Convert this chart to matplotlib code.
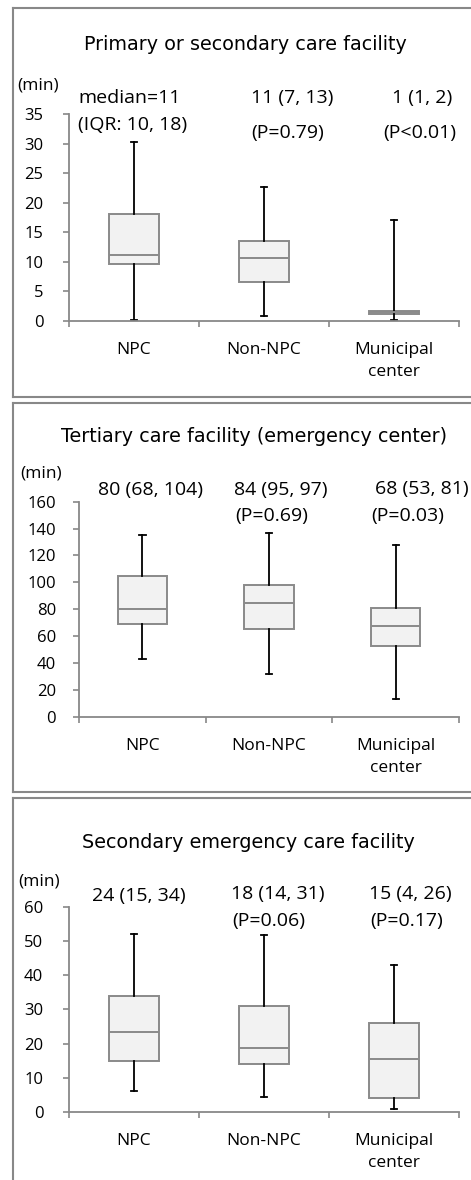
import matplotlib
matplotlib.use("Agg")
import matplotlib.pyplot as plt
from matplotlib.lines import Line2D

W, H = 471, 1180

# categories
groups = ["NPC", "Non-NPC", "Municipal\ncenter"]

# panel 1: primary or secondary care facility
p1_title = "Primary or secondary care facility"
p1_lo = [0.2, 0.8, 0.1]
p1_q1 = [9.7, 6.6, 1.1]
p1_med = [11.2, 10.7, 1.5]
p1_q3 = [18.1, 13.6, 1.7]
p1_hi = [30.3, 22.7, 17.1]
p1_ticks = [0, 5, 10, 15, 20, 25, 30, 35]

# panel 2: tertiary care facility
p2_title = "Tertiary care facility (emergency center)"
p2_lo = [42.9, 31.5, 13.4]
p2_q1 = [68.7, 65.5, 52.8]
p2_med = [79.9, 84.8, 67.7]
p2_q3 = [104.5, 98.0, 81.1]
p2_hi = [135.0, 137.0, 128.0]
p2_ticks = [0, 20, 40, 60, 80, 100, 120, 140, 160]

# panel 3: secondary emergency care facility
p3_title = "Secondary emergency care facility"
p3_lo = [6.1, 4.5, 0.9]
p3_q1 = [15.0, 14.1, 4.0]
p3_med = [23.5, 18.6, 15.5]
p3_q3 = [34.0, 30.9, 26.0]
p3_hi = [52.0, 51.7, 42.9]
p3_ticks = [0, 10, 20, 30, 40, 50, 60]

# summary labels above boxes
p1_notes = ["median=11", "11 (7, 13)", "1 (1, 2)"]
p1_notes2 = ["(IQR: 10, 18)", "(P=0.79)", "(P<0.01)"]
p2_notes = ["80 (68, 104)", "84 (95, 97)", "68 (53, 81)"]
p2_notes2 = ["", "(P=0.69)", "(P=0.03)"]
p3_notes = ["24 (15, 34)", "18 (14, 31)", "15 (4, 26)"]
p3_notes2 = ["", "(P=0.06)", "(P=0.17)"]

TICK_FONT = ["Open Sans", "DejaVu Sans"]
TITLE_FONT = ["DejaVu Sans"]
GRAY = "#888888"

fig = plt.figure(figsize=(W / 100, H / 100), dpi=100)


def fx(x):
    return x / W


def fy(y):
    return 1 - y / H


def panel(rect_px, box_px, ypad, title, title_xy, lo, q1, med, q3, hi, ticks,
          notes, notes_xy, notes2, notes2_xy, min_xy):
    # frame (left, top, bottom lines; right side runs off the image)
    x0, y0, y1 = rect_px
    for xs, ys in [((x0, W + 5), (y0, y0)), ((x0, x0), (y0, y1)),
                   ((x0, W + 5), (y1, y1))]:
        fig.add_artist(Line2D([fx(v) for v in xs], [fy(v) for v in ys],
                              color=GRAY, lw=1.5))

    left, top, right, bottom = box_px
    ax = fig.add_axes([fx(left), fy(bottom), fx(right - left),
                       (bottom - top) / H])
    stats = []
    for i in range(len(groups)):
        stats.append(dict(whislo=lo[i], q1=q1[i], med=med[i], q3=q3[i],
                          whishi=hi[i], fliers=[]))
    ax.bxp(stats, positions=[0.5, 1.5, 2.5], widths=0.39, capwidths=0.05,
           patch_artist=True, showfliers=False,
           boxprops=dict(facecolor="#f2f2f2", edgecolor="#8a8a8a", lw=1.4),
           medianprops=dict(color="#8a8a8a", lw=1.4),
           whiskerprops=dict(color="black", lw=1.3),
           capprops=dict(color="black", lw=1.3))
    ax.set_xlim(0, 3)
    ax.set_ylim(ticks[0], ticks[-1])
    ax.set_yticks(ticks)
    ax.set_xticks([0.5, 1.5, 2.5])
    ax.set_xticklabels(groups, linespacing=1.5)
    ax.set_xticks([0, 1, 2, 3], minor=True)
    ax.tick_params(axis="x", which="major", length=0, pad=15)
    ax.tick_params(axis="x", which="minor", length=4.5, width=1.2,
                   color=GRAY, direction="out")
    ax.tick_params(axis="y", length=4.5, width=1.2, color=GRAY, pad=ypad)
    for lab in ax.get_xticklabels():
        lab.set_fontfamily(TICK_FONT)
        lab.set_fontsize(12.5)
    for lab in ax.get_yticklabels():
        lab.set_fontfamily(TICK_FONT)
        lab.set_fontsize(12)
    for s in ["top", "right"]:
        ax.spines[s].set_visible(False)
    for s in ["left", "bottom"]:
        ax.spines[s].set_color(GRAY)
        ax.spines[s].set_linewidth(1.3)
    ax.patch.set_alpha(0)

    fig.text(fx(title_xy[0]), fy(title_xy[1]), title, ha="center",
             va="center", fontsize=13.8, family=TITLE_FONT)
    fig.text(fx(min_xy[0]), fy(min_xy[1]), "(min)", ha="left", va="center",
             fontsize=12.5, family=TICK_FONT)
    for txt, (x, y) in zip(notes, notes_xy):
        fig.text(fx(x), fy(y), txt, ha="center", va="center", fontsize=14,
                 family=TICK_FONT)
    for txt, (x, y) in zip(notes2, notes2_xy):
        if txt:
            fig.text(fx(x), fy(y), txt, ha="center", va="center",
                     fontsize=14, family=TICK_FONT)


panel((13, 8, 397), (69, 114, 459, 321), 14, p1_title, (245, 45),
      p1_lo, p1_q1, p1_med, p1_q3, p1_hi, p1_ticks,
      p1_notes, [(130, 98), (292, 98), (422, 98)],
      p1_notes2, [(133, 125), (288, 133), (420, 133)], (17, 85))

panel((13, 403, 792), (79, 501.7, 459, 716.7), 12, p2_title, (254, 437),
      p2_lo, p2_q1, p2_med, p2_q3, p2_hi, p2_ticks,
      p2_notes, [(151, 490), (281, 490), (422, 489)],
      p2_notes2, [(0, 0), (272, 516), (408, 516)], (20, 474))

panel((13, 798, 1200), (69, 906.7, 459, 1112), 14, p3_title, (248, 842),
      p3_lo, p3_q1, p3_med, p3_q3, p3_hi, p3_ticks,
      p3_notes, [(139, 896), (278, 894), (410, 894)],
      p3_notes2, [(0, 0), (269, 921), (407, 921)], (18, 881))

fig.savefig("out.png", dpi=100)
